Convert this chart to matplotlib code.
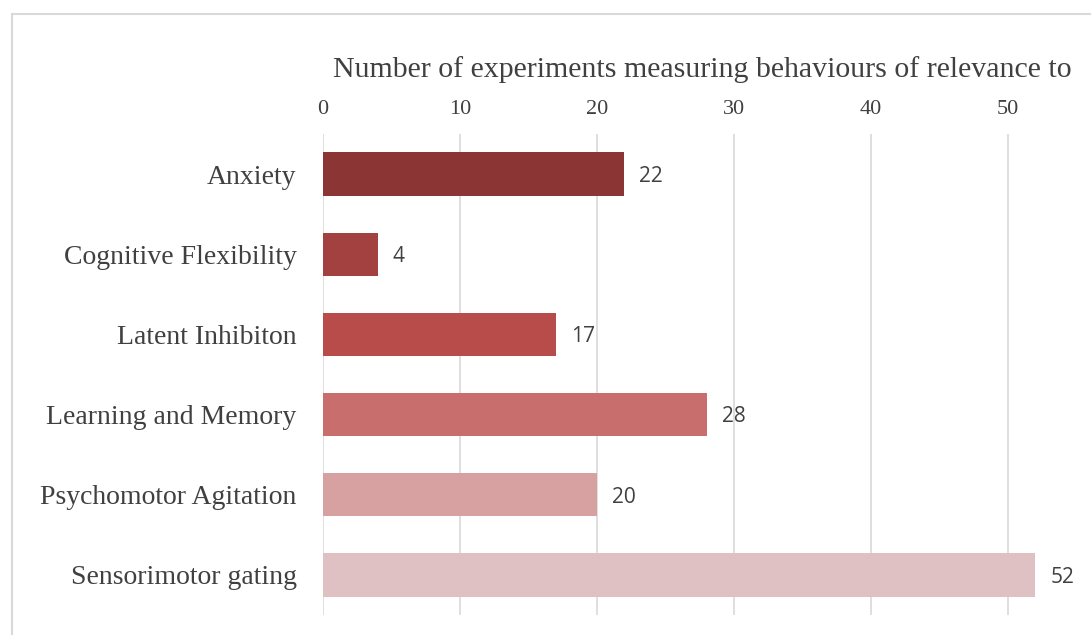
import matplotlib.pyplot as plt

# data
categories = ['Anxiety', 'Cognitive Flexibility', 'Latent Inhibiton',
              'Learning and Memory', 'Psychomotor Agitation', 'Sensorimotor gating']
counts = [22, 4, 17, 28, 20, 52]
colors = ['#8B3535', '#A34040', '#B84C4B', '#C86E6D', '#D8A1A1', '#E0C1C3']
ticks = [0, 10, 20, 30, 40, 50]
title = 'Number of experiments measuring behaviours of relevance to'

W, H = 1091, 635
fig = plt.figure(figsize=(W / 100, H / 100), dpi=100)

# light frame of the original chart area (cropped on right/bottom)
fig.add_artist(plt.Line2D([12 / W, 12 / W], [0, 1 - 14 / H], color='#d9d9d9', lw=1.5))
fig.add_artist(plt.Line2D([12 / W, 1], [1 - 14 / H, 1 - 14 / H], color='#d9d9d9', lw=1.5))

left, right, top, bottom = 323, 1091, 134, 615
ax = fig.add_axes([left / W, 1 - bottom / H, (right - left) / W, (bottom - top) / H])

y = list(range(len(categories)))
ax.barh(y, counts, height=0.54, color=colors, zorder=2)
ax.set_ylim(len(categories) - 0.5, -0.5)
ax.set_xlim(0, (right - left) / 13.7)

ax.xaxis.tick_top()
ax.set_xticks(ticks)
ax.set_xticklabels([str(t) for t in ticks], family='Liberation Serif', fontsize=16, color='#404040')
ax.tick_params(axis='x', length=0, pad=11)
ax.set_yticks(y)
ax.set_yticklabels(categories, family='Liberation Serif', fontsize=20, color='#404040')
ax.tick_params(axis='y', length=0, pad=19)

ax.grid(axis='x', color='#d9d9d9', lw=1.2, zorder=0)
for s in ax.spines.values():
    s.set_visible(False)

for i, v in enumerate(counts):
    ax.text(v + 1.1, i + 0.03, str(v), va='center', ha='left', family='Open Sans',
            fontsize=15, color='#404040', zorder=3)

fig.text(333 / W, 1 - 70 / H, title, family='Liberation Serif', fontsize=21.5,
         color='#404040', ha='left', va='center')

fig.savefig('out.png', dpi=100)
